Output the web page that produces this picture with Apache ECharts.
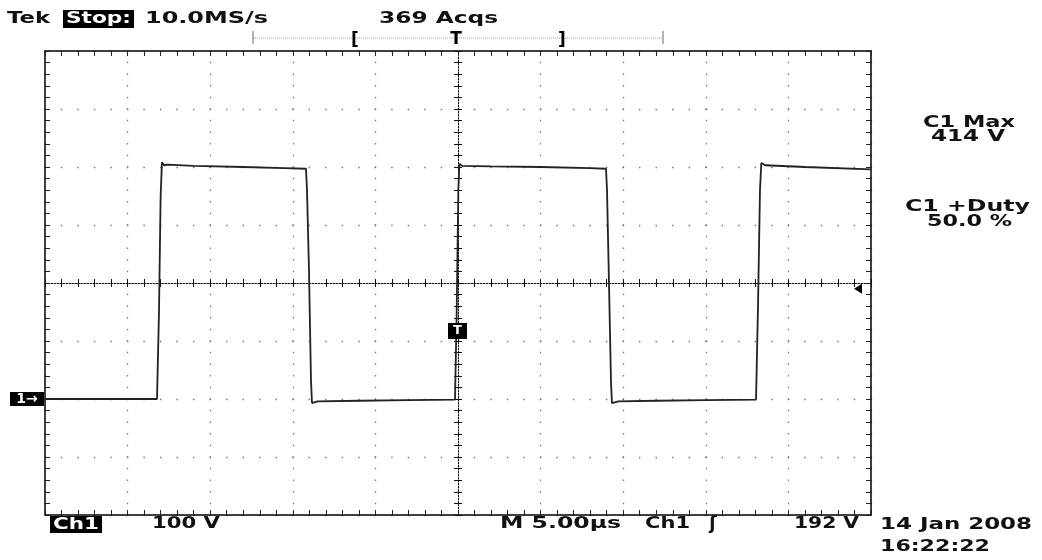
<!DOCTYPE html>
<html><head><meta charset="utf-8">
<script src="https://cdn.jsdelivr.net/npm/echarts@6/dist/echarts.min.js"></script>
<style>html,body{margin:0;padding:0;background:#fff}#c{width:1042px;height:560px}</style>
</head><body><div id="c"></div>
<script>
// ---- data ----
const timeUs = [-25, -18.22, -18.1, -18.0, -17.92, -17.8, -17.6, -16, -13, -10.5, -9.2, -9.14, -9.02, -8.9, -8.84, -8.5, -6, -3, -0.18, -0.08, 0.02, 0.08, 0.25, 2, 5, 8, 8.96, 9.02, 9.14, 9.26, 9.32, 9.7, 12, 15, 18.04, 18.16, 18.28, 18.36, 18.6, 21, 25];
const volts  = [0, 0, 150, 350, 408, 403, 404, 402, 400, 398, 397, 360, 222, 33, -7, -4, -3, -2, -1, 150, 360, 405, 402, 401, 400, 398, 397, 360, 200, 30, -7, -4, -3, -2, -1, 160, 360, 407, 403, 400, 396];
const statusText = ['Tek', 'Stop:', '10.0MS/s', '369 Acqs'];
const recordMarks = ['[', 'T', ']'];
const measureText = ['C1 Max', '414 V', 'C1 +Duty', '50.0 %'];
const bottomText = ['Ch1', '100 V', 'M 5.00\u00b5s', 'Ch1', '\u0283', '192 V'];
const dateText = ['14 Jan 2008', '16:22:22'];
const groundLevelV = 0;
const triggerLevelV = 192;
const timeRange = [-25, 25];   // µs, 5 µs/div
const voltRange = [-200, 600]; // V, 100 V/div

const chart = echarts.init(document.getElementById('c'), null, {renderer: 'canvas'});
const pairs = timeUs.map((t, i) => [t, volts[i]]);

const BLACK = '#000';
function xAx(extra) {
  return Object.assign({
    type: 'value', min: timeRange[0], max: timeRange[1], interval: 5,
    axisLabel: {show: false},
    axisLine: {show: true, onZero: false, lineStyle: {color: BLACK, width: 1.5}},
    axisTick: {show: true, inside: true, length: 5, lineStyle: {color: '#222', width: 1}},
    minorTick: {show: true, splitNumber: 5, length: 5, lineStyle: {color: '#222', width: 1}},
    splitLine: {show: false}
  }, extra);
}
function yAx(extra) {
  return Object.assign({
    type: 'value', min: voltRange[0], max: voltRange[1], interval: 100,
    axisLabel: {show: false},
    axisLine: {show: true, onZero: false, lineStyle: {color: BLACK, width: 1.5}},
    axisTick: {show: true, inside: true, length: 5, lineStyle: {color: '#222', width: 1}},
    minorTick: {show: true, splitNumber: 5, length: 5, lineStyle: {color: '#222', width: 1}},
    splitLine: {show: false}
  }, extra);
}
const centerLine = {show: true, onZero: false, lineStyle: {color: '#000', width: 1, type: [1.5, 1.5]}};
const tickSmall = (inside) => ({show: true, inside: inside, length: 4, lineStyle: {color: '#111', width: 1}});
const minorSmall = {show: true, splitNumber: 5, length: 4, lineStyle: {color: '#111', width: 1}};

chart.setOption({
  animation: false,
  backgroundColor: '#fff',
  grid: {left: 45, top: 51, width: 826, height: 464, containLabel: false},
  xAxis: [
    xAx({position: 'bottom', splitLine: {show: true, lineStyle: {color: '#7a7a7a', width: 1.3, type: [1.5, 10.1], dashOffset: 0.75}}}),
    xAx({position: 'top'}),
    xAx({position: 'bottom', offset: -232, axisLine: centerLine, axisTick: tickSmall(true), minorTick: minorSmall}),
    xAx({position: 'bottom', offset: -232, axisLine: {show: false, onZero: false}, axisTick: tickSmall(false), minorTick: minorSmall})
  ],
  yAxis: [
    yAx({position: 'left', splitLine: {show: true, lineStyle: {color: '#7a7a7a', width: 1.3, type: [1.5, 15.02], dashOffset: 0.75}}}),
    yAx({position: 'right'}),
    yAx({position: 'left', offset: -413, axisLine: centerLine, axisTick: tickSmall(true), minorTick: minorSmall}),
    yAx({position: 'left', offset: -413, axisLine: {show: false, onZero: false}, axisTick: tickSmall(false), minorTick: minorSmall})
  ],
  series: [{
    type: 'line', xAxisIndex: 0, yAxisIndex: 0, data: pairs,
    symbol: 'none', showSymbol: false, z: 5,
    lineStyle: {color: '#222', width: 1.8}
  }]
});

// ---- annotations ----
const mctx = document.createElement('canvas').getContext('2d');
function fontOf(size) { return 'bold ' + size + 'px "DejaVu Sans"'; }
function textW(s, f) { mctx.font = f; return mctx.measureText(s).width; }
function fitText(s, x1, x2, yc, fill, size) {
  size = size || 16;
  const f = fontOf(size);
  return {type: 'text', x: x1, y: yc, scaleX: (x2 - x1) / textW(s, f), silent: true, z: 10,
    style: {text: s, font: f, fill: fill || '#111', textAlign: 'left', textVerticalAlign: 'middle', align: 'left', verticalAlign: 'middle'}};
}
function cText(s, xc, yc, fill, size) {
  const f = fontOf(size || 15);
  return {type: 'text', x: xc, y: yc, silent: true, z: 10,
    style: {text: s, font: f, fill: fill || '#111', textAlign: 'center', textVerticalAlign: 'middle', align: 'center', verticalAlign: 'middle'}};
}
function box(x1, y1, x2, y2) {
  return {type: 'rect', shape: {x: x1, y: y1, width: x2 - x1, height: y2 - y1}, style: {fill: BLACK}, silent: true, z: 9};
}

const toPx = (t, v) => chart.convertToPixel({xAxisIndex: 0, yAxisIndex: 0}, [t, v]);
const groundY = toPx(0, groundLevelV)[1];
const trigY = toPx(0, triggerLevelV)[1];
const centerX = toPx(0, 0)[0];
const rightX = toPx(timeRange[1], 0)[0];

const g = [];
// header
g.push(fitText(statusText[0], 7, 50, 19));
g.push(box(63, 10, 134, 28));
g.push(fitText(statusText[1], 66, 131, 19, '#fff'));
g.push(fitText(statusText[2], 145, 268, 19));
g.push(fitText(statusText[3], 379, 498, 19));
// record bar
g.push({type: 'line', shape: {x1: 253, y1: 38, x2: 663, y2: 38}, style: {stroke: '#999', lineWidth: 1, lineDash: [1, 1]}, silent: true});
g.push({type: 'line', shape: {x1: 253, y1: 31, x2: 253, y2: 44}, style: {stroke: '#666', lineWidth: 1}, silent: true});
g.push({type: 'line', shape: {x1: 663, y1: 31, x2: 663, y2: 44}, style: {stroke: '#666', lineWidth: 1}, silent: true});
g.push(cText(recordMarks[0], 355, 41, BLACK, 17));
g.push(cText(recordMarks[1], 456, 40, BLACK, 17));
g.push(cText(recordMarks[2], 562, 41, BLACK, 17));
// measurements
g.push(fitText(measureText[0], 923, 1015, 123));
g.push(fitText(measureText[1], 931, 1005, 137));
g.push(fitText(measureText[2], 905, 1030, 207));
g.push(fitText(measureText[3], 927, 1012, 222));
// bottom line
g.push(box(50, 516, 102, 533));
g.push(fitText(bottomText[0], 53, 99, 525, '#fff'));
g.push(fitText(bottomText[1], 152, 220, 524));
g.push(fitText(bottomText[2], 500, 621, 524));
g.push(fitText(bottomText[3], 645, 690, 524));
g.push(cText(bottomText[4], 713, 524, '#111', 18));
g.push(fitText(bottomText[5], 794, 859, 524));
g.push(fitText(dateText[0], 880, 1032, 525));
g.push(fitText(dateText[1], 880, 990, 547));
// ground marker "1→"
g.push(box(10, groundY - 7, 44, groundY + 7));
g.push(cText('1\u2192', 27, groundY, '#fff', 14));
// trigger-level arrow on right edge
g.push({type: 'polygon', shape: {points: [[rightX - 17, trigY + 1], [rightX - 9, trigY - 4], [rightX - 9, trigY + 6]]}, style: {fill: BLACK}, silent: true, z: 9});
// trigger marker "T" on centre line
g.push(box(centerX - 10, 323, centerX + 9, 339));
g.push(cText('T', centerX - 0.5, 331, '#fff', 13));

chart.setOption({graphic: {elements: g}});
</script>
</body></html>
